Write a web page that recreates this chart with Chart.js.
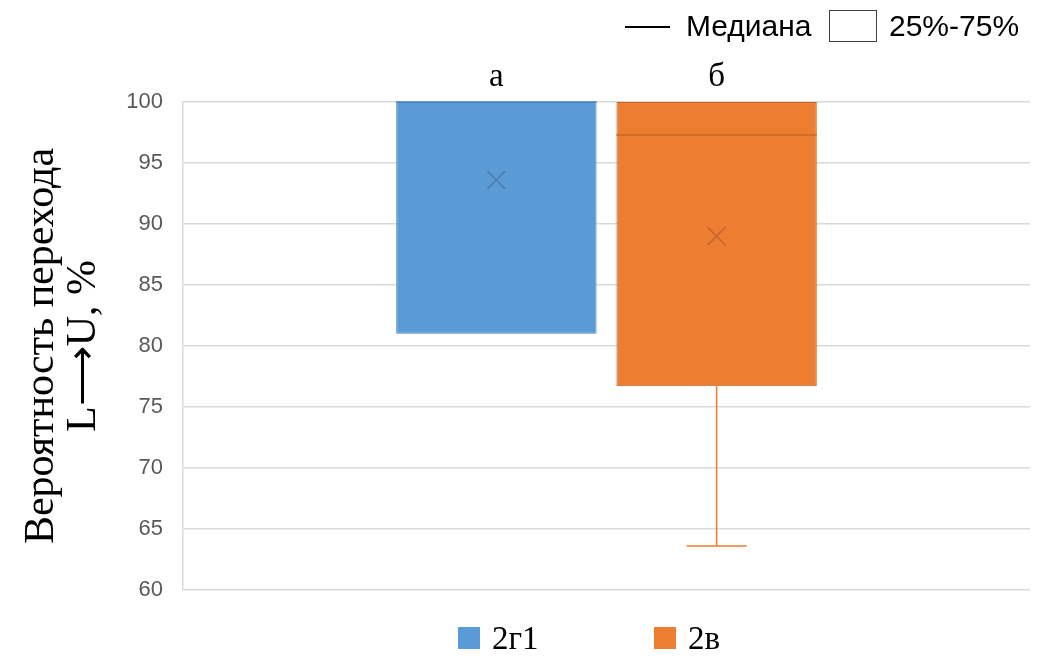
<!DOCTYPE html>
<html>
<head>
<meta charset="utf-8">
<script src="https://cdn.jsdelivr.net/npm/chart.js@4"></script>
<style>
  body { margin: 0; background: #fff; }
  #wrap { width: 1039px; height: 656px; }
</style>
</head>
<body>
<div id="wrap"><canvas id="chartBox"></canvas></div>
<script>
var groups = ['2г1', '2в'];
var q1 = [81.0, 76.7];
var q3 = [100, 100];
var medians = [100, 97.3];
var means = [93.6, 89.0];
var whiskMin = [81.0, 63.6];
var whiskMax = [100, 100];
var letters = ['а', 'б'];
var yTicks = [60, 65, 70, 75, 80, 85, 90, 95, 100];

var fills = ['#5B9BD5', '#ED7D31'];
var edges = ['#4A83BA', '#C9672A'];
var marks = ['#4C7DAA', '#BE6630'];

// extra drawing: whiskers, medians, means, letters, legends
var boxExtras = {
    id: 'boxExtras',
    afterDatasetsDraw: function(chart) {
        var ctx = chart.ctx;
        var y = chart.scales.y;
        ctx.save();
        for (var i = 0; i < groups.length; i++) {
            var bar = chart.getDatasetMeta(i).data[0];
            var cx = bar.x;
            var half = bar.width / 2;

            // lower whisker
            if (whiskMin[i] < q1[i]) {
                ctx.strokeStyle = fills[i];
                ctx.lineWidth = 1.5;
                ctx.beginPath();
                ctx.moveTo(cx, y.getPixelForValue(q1[i]));
                ctx.lineTo(cx, y.getPixelForValue(whiskMin[i]));
                ctx.moveTo(cx - 30, y.getPixelForValue(whiskMin[i]));
                ctx.lineTo(cx + 30, y.getPixelForValue(whiskMin[i]));
                ctx.stroke();
            }
            // upper whisker
            if (whiskMax[i] > q3[i]) {
                ctx.strokeStyle = fills[i];
                ctx.lineWidth = 1.5;
                ctx.beginPath();
                ctx.moveTo(cx, y.getPixelForValue(q3[i]));
                ctx.lineTo(cx, y.getPixelForValue(whiskMax[i]));
                ctx.moveTo(cx - 30, y.getPixelForValue(whiskMax[i]));
                ctx.lineTo(cx + 30, y.getPixelForValue(whiskMax[i]));
                ctx.stroke();
            }

            // median
            var my = y.getPixelForValue(medians[i]);
            ctx.strokeStyle = edges[i];
            ctx.lineWidth = 1.5;
            ctx.beginPath();
            ctx.moveTo(cx - half, my);
            ctx.lineTo(cx + half, my);
            ctx.stroke();

            // mean cross
            var py = y.getPixelForValue(means[i]);
            ctx.strokeStyle = marks[i];
            ctx.lineWidth = 1.5;
            ctx.beginPath();
            ctx.moveTo(cx - 9, py - 9);
            ctx.lineTo(cx + 9, py + 9);
            ctx.moveTo(cx + 9, py - 9);
            ctx.lineTo(cx - 9, py + 9);
            ctx.stroke();

            // letter over the box
            ctx.fillStyle = '#000';
            ctx.font = '33px "Liberation Serif"';
            ctx.textAlign = 'center';
            ctx.textBaseline = 'alphabetic';
            ctx.fillText(letters[i], cx, y.getPixelForValue(q3[i]) - 16);
        }

        // top legend
        ctx.strokeStyle = '#000';
        ctx.lineWidth = 2;
        ctx.beginPath();
        ctx.moveTo(625, 27);
        ctx.lineTo(670, 27);
        ctx.stroke();
        ctx.fillStyle = '#000';
        ctx.font = '30px "Liberation Sans"';
        ctx.textAlign = 'left';
        ctx.textBaseline = 'middle';
        ctx.fillText('Медиана', 686, 28);
        ctx.strokeStyle = '#404040';
        ctx.lineWidth = 1;
        ctx.strokeRect(829.5, 10.5, 47, 31);
        ctx.fillText('25%-75%', 889, 28);

        // bottom legend
        var lx = [458, 654];
        ctx.font = '33px "Liberation Serif"';
        ctx.textBaseline = 'middle';
        for (var k = 0; k < groups.length; k++) {
            ctx.fillStyle = fills[k];
            ctx.fillRect(lx[k], 627, 22, 22);
            ctx.fillStyle = '#000';
            ctx.fillText(groups[k], lx[k] + 34, 640);
        }
        ctx.restore();
    }
};

var chartData = {
    labels: [''],
    datasets: groups.map(function(g, i) {
        return {
            label: g,
            data: [[q1[i], q3[i]]],
            backgroundColor: fills[i],
            borderColor: edges[i],
            borderWidth: 1,
            borderSkipped: false,
            categoryPercentage: 0.52,
            barPercentage: 0.91
        };
    })
};

var ctx = document.getElementById('chartBox');
var myBoxChart = new Chart(ctx, {
    type: 'bar',
    data: chartData,
    plugins: [boxExtras],
    options: {
        responsive: true,
        maintainAspectRatio: false,
        animation: false,
        layout: {
            padding: { top: 102, right: 9, bottom: 66, left: 0 }
        },
        plugins: {
            legend: { display: false },
            tooltip: { enabled: false }
        },
        scales: {
            x: {
                display: false
            },
            y: {
                min: 60,
                max: 100,
                afterFit: function(scale) { scale.width = 183; },
                afterBuildTicks: function(scale) {
                    scale.ticks = yTicks.map(function(v) { return { value: v }; });
                },
                grid: {
                    color: '#d9d9d9',
                    lineWidth: 1.5,
                    drawTicks: false
                },
                border: { display: true, color: '#d9d9d9', width: 1.5 },
                ticks: {
                    color: '#595959',
                    padding: 20,
                    font: { family: '"Liberation Sans"', size: 22 }
                },
                title: {
                    display: true,
                    text: ['Вероятность перехода', 'L⟶U, %'],
                    color: '#000',
                    font: { family: '"Liberation Serif"', size: 42, lineHeight: 1.0 },
                    padding: { top: 21, bottom: 0 }
                }
            }
        }
    }
});
</script>
</body>
</html>
